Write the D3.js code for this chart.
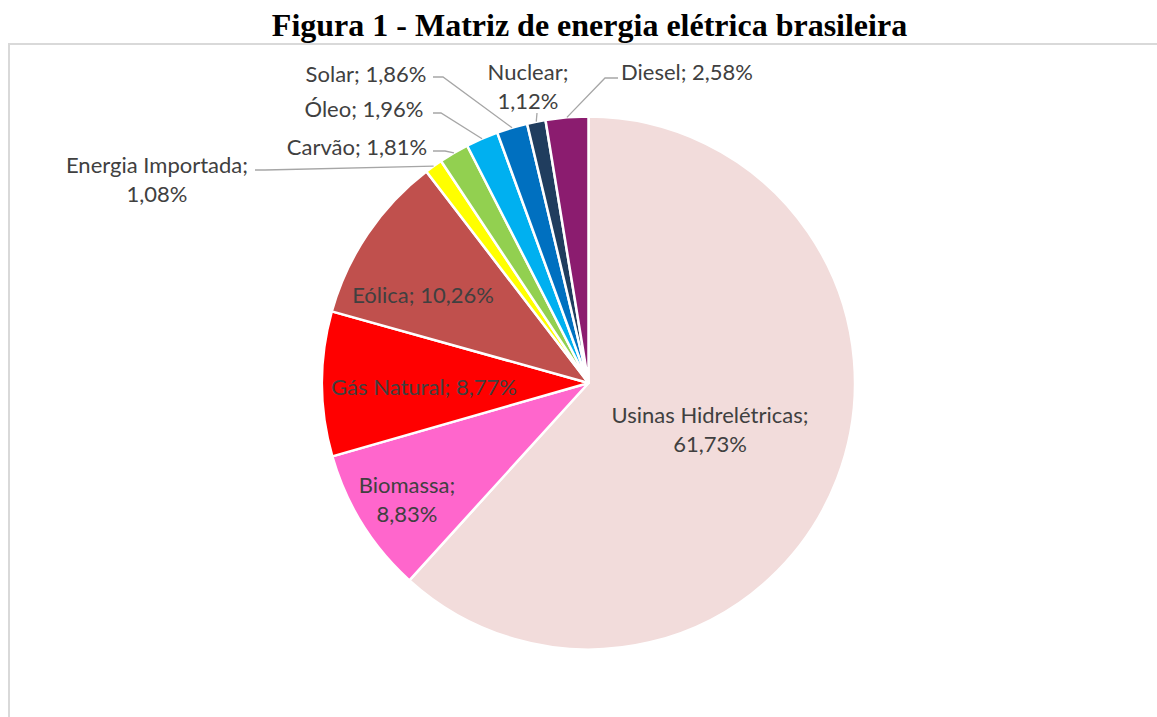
<!DOCTYPE html>
<html>
<head>
<meta charset="utf-8">
<script src="https://cdn.jsdelivr.net/npm/d3@7"></script>
<style>
  body { margin: 0; background: #fff; }
  svg { display: block; }
</style>
</head>
<body>
<svg id="chart"></svg>
<script>
// data
var categories = ['Usinas Hidrelétricas', 'Biomassa', 'Gás Natural', 'Eólica', 'Energia Importada',
                  'Carvão', 'Óleo', 'Solar', 'Nuclear', 'Diesel'];
var values = [61.73, 8.83, 8.77, 10.26, 1.08, 1.81, 1.96, 1.86, 1.12, 2.58];
var colors = ['#F2DCDB', '#FF66CC', '#FF0000', '#C0504D', '#FFFF00',
              '#92D050', '#00B0F0', '#0070C0', '#203D5E', '#8B1C6F'];
// label placement (text centre, first line) and leader line start/elbow, as laid out in the original
var labelLayout = [
    { x: 710, y: 415, split: true },
    { x: 407, y: 485, split: true },
    { x: 424, y: 387, split: false },
    { x: 423, y: 295, split: false },
    { x: 157, y: 165, split: true, leader: [255, 170, 265] },
    { x: 357, y: 147, split: false, leader: [433, 151, 445] },
    { x: 364, y: 109, split: false, leader: [433, 113, 441] },
    { x: 366, y: 74, split: false, leader: [433, 77, 443] },
    { x: 528, y: 72, split: true, leader: [537, 113, 537] },
    { x: 687, y: 72, split: false, leader: [618, 78, 605] }
];
var title = 'Figura 1 - Matriz de energia elétrica brasileira';

var width = 1157,
    height = 717,
    cx = 588.5,
    cy = 383,
    radius = 266.5,
    lineHeight = 29;

var svg = d3.select('#chart')
    .attr('width', width)
    .attr('height', height);

// chart area frame
svg.append('rect')
    .attr('x', 9)
    .attr('y', 44)
    .attr('width', 1300)
    .attr('height', 900)
    .attr('fill', 'none')
    .attr('stroke', '#d9d9d9')
    .attr('stroke-width', 2);

svg.append('text')
    .attr('x', 589.5)
    .attr('y', 36)
    .attr('text-anchor', 'middle')
    .style('font-family', '"Liberation Serif", "Times New Roman", serif')
    .style('font-weight', 'bold')
    .style('font-size', '32px')
    .attr('fill', '#000')
    .text(title);

var data = categories.map(function (c, i) {
    return { name: c, value: values[i], color: colors[i], layout: labelLayout[i] };
});

var pie = d3.pie()
    .sort(null)
    .value(function (d) { return d.value; });

var arc = d3.arc()
    .innerRadius(0)
    .outerRadius(radius);

var chart = svg.append('g')
    .attr('transform', 'translate(' + cx + ',' + cy + ')');

var arcs = pie(data);

chart.selectAll('.slice')
    .data(arcs)
    .enter().append('path')
    .attr('class', 'slice')
    .attr('d', arc)
    .attr('fill', function (d) { return d.data.color; })
    .attr('stroke', '#fff')
    .attr('stroke-width', 2.5)
    .attr('stroke-linejoin', 'round');

// leader lines from the label to the slice edge at its mid angle
svg.selectAll('.leader')
    .data(arcs.filter(function (d) { return d.data.layout.leader; }))
    .enter().append('polyline')
    .attr('class', 'leader')
    .attr('points', function (d) {
        var l = d.data.layout.leader,
            a = (d.startAngle + d.endAngle) / 2,
            ex = cx + radius * Math.sin(a),
            ey = cy - radius * Math.cos(a);
        return [[l[0], l[1]], [l[2], l[1]], [ex, ey]].join(' ');
    })
    .attr('fill', 'none')
    .attr('stroke', '#a6a6a6')
    .attr('stroke-width', 1.3);

function fmt(v) {
    return v.toFixed(2).replace('.', ',') + '%';
}

var labels = svg.selectAll('.label')
    .data(arcs)
    .enter().append('text')
    .attr('class', 'label')
    .attr('text-anchor', 'middle')
    .style('font-family', 'Lato, "Open Sans", sans-serif')
    .style('font-size', '22px')
    .attr('fill', '#404040');

labels.each(function (d) {
    var t = d3.select(this),
        l = d.data.layout,
        lines = l.split ? [d.data.name + ';', fmt(d.data.value)] : [d.data.name + '; ' + fmt(d.data.value)];
    lines.forEach(function (s, i) {
        t.append('tspan')
            .attr('x', l.x)
            .attr('y', l.y + i * lineHeight)
            .attr('dy', '0.36em')
            .text(s);
    });
});
</script>
</body>
</html>
